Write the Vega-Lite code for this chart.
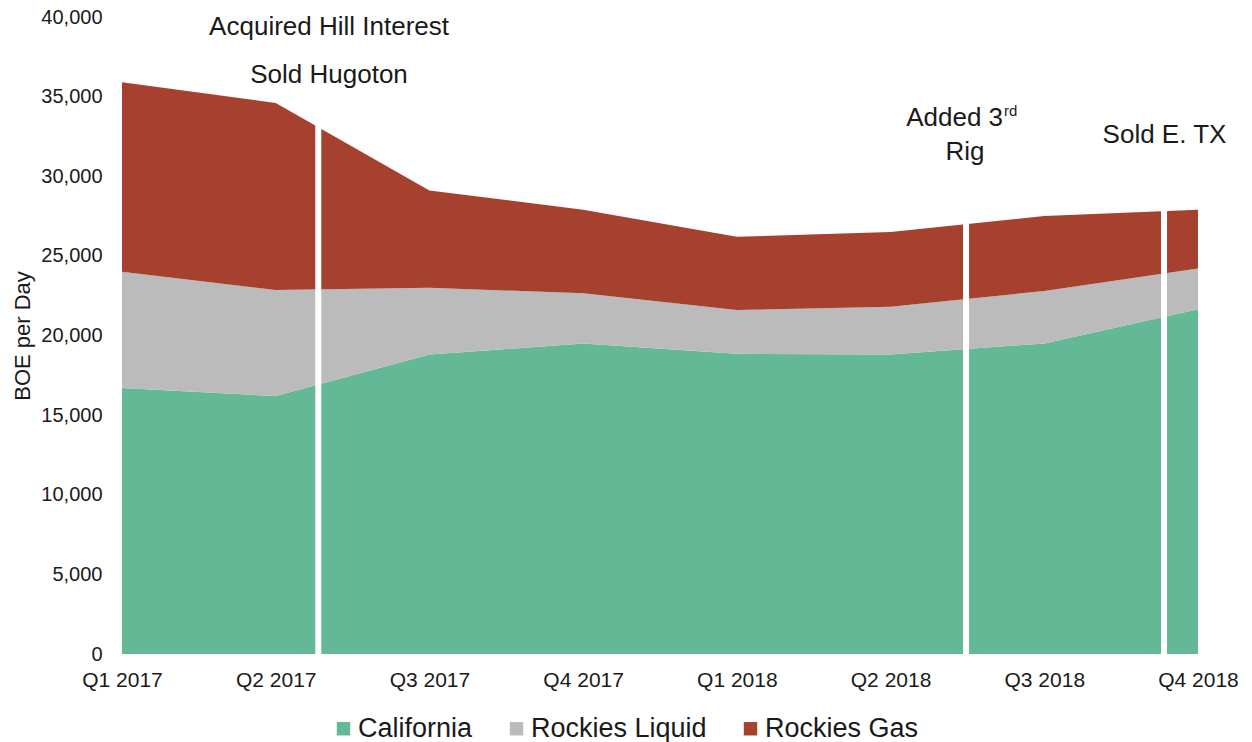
{
  "$schema": "https://vega.github.io/schema/vega-lite/v6.json",
  "autosize": {"type": "none"},
  "width": 1076,
  "height": 637,
  "padding": {"left": 122, "top": 17, "right": 54, "bottom": 88},
  "background": "white",
  "config": {
    "view": {"stroke": null},
    "font": "Liberation Sans",
    "axis": {"labelFont": "Liberation Sans", "titleFont": "Liberation Sans", "labelColor": "#1a1a1a", "titleColor": "#1a1a1a", "grid": false, "ticks": false, "domain": false}
  },
  "datasets": {
    "prod": [
      {"q": 0, "series": "California", "k": 1, "v": 16700},
      {"q": 1, "series": "California", "k": 1, "v": 16200},
      {"q": 2, "series": "California", "k": 1, "v": 18800},
      {"q": 3, "series": "California", "k": 1, "v": 19500},
      {"q": 4, "series": "California", "k": 1, "v": 18850},
      {"q": 5, "series": "California", "k": 1, "v": 18800},
      {"q": 6, "series": "California", "k": 1, "v": 19500},
      {"q": 7, "series": "California", "k": 1, "v": 21650},
      {"q": 0, "series": "Rockies Liquid", "k": 2, "v": 7300},
      {"q": 1, "series": "Rockies Liquid", "k": 2, "v": 6650},
      {"q": 2, "series": "Rockies Liquid", "k": 2, "v": 4200},
      {"q": 3, "series": "Rockies Liquid", "k": 2, "v": 3150},
      {"q": 4, "series": "Rockies Liquid", "k": 2, "v": 2750},
      {"q": 5, "series": "Rockies Liquid", "k": 2, "v": 3000},
      {"q": 6, "series": "Rockies Liquid", "k": 2, "v": 3300},
      {"q": 7, "series": "Rockies Liquid", "k": 2, "v": 2550},
      {"q": 0, "series": "Rockies Gas", "k": 3, "v": 11900},
      {"q": 1, "series": "Rockies Gas", "k": 3, "v": 11750},
      {"q": 2, "series": "Rockies Gas", "k": 3, "v": 6100},
      {"q": 3, "series": "Rockies Gas", "k": 3, "v": 5250},
      {"q": 4, "series": "Rockies Gas", "k": 3, "v": 4600},
      {"q": 5, "series": "Rockies Gas", "k": 3, "v": 4700},
      {"q": 6, "series": "Rockies Gas", "k": 3, "v": 4700},
      {"q": 7, "series": "Rockies Gas", "k": 3, "v": 3700}
    ],
    "gaps": [
      {"q": 1.277, "lo": 0, "hi": 40000},
      {"q": 5.491, "lo": 0, "hi": 40000},
      {"q": 6.779, "lo": 0, "hi": 40000}
    ],
    "notes": [
      {"q": 1.347, "v": 38870, "label": "Acquired Hill Interest"},
      {"q": 1.347, "v": 35856, "label": "Sold Hugoton"},
      {"q": 5.484, "v": 31020, "label": "Rig"},
      {"q": 6.782, "v": 32107, "label": "Sold E. TX"}
    ],
    "notesR": [
      {"q": 5.732, "v": 33174, "label": "Added 3"}
    ],
    "sup": [
      {"q": 5.732, "v": 33174, "label": "rd"}
    ]
  },
  "layer": [
    {
      "data": {"name": "prod"},
      "mark": {"type": "area", "interpolate": "linear"},
      "encoding": {
        "x": {
          "field": "q", "type": "quantitative",
          "scale": {"domain": [0, 7], "nice": false, "zero": false},
          "axis": {
            "values": [0, 1, 2, 3, 4, 5, 6, 7],
            "labelExpr": "['Q1 2017','Q2 2017','Q3 2017','Q4 2017','Q1 2018','Q2 2018','Q3 2018','Q4 2018'][datum.value]",
            "labelFontSize": 21, "labelPadding": 15, "title": null, "labelFlush": false, "labelOverlap": false
          }
        },
        "y": {
          "field": "v", "type": "quantitative", "stack": "zero",
          "scale": {"domain": [0, 40000], "nice": false},
          "axis": {
            "values": [0, 5000, 10000, 15000, 20000, 25000, 30000, 35000, 40000],
            "format": ",.0f", "labelFontSize": 20, "labelPadding": 20,
            "title": "BOE per Day", "titleFontSize": 22, "titleFontWeight": "normal", "titlePadding": 6
          }
        },
        "color": {
          "field": "series", "type": "nominal",
          "scale": {"domain": ["California", "Rockies Liquid", "Rockies Gas"], "range": ["#63B996", "#BBBBBB", "#A6412F"]},
          "legend": {
            "title": null, "orient": "none", "direction": "horizontal",
            "legendX": 208, "legendY": 698,
            "symbolType": "square", "symbolSize": 180, "symbolStrokeWidth": 0, "symbolOpacity": 1,
            "labelFont": "Liberation Sans", "labelFontSize": 27, "labelColor": "#1a1a1a", "labelLimit": 400,
            "labelOffset": 1, "columnPadding": 30, "padding": 0
          }
        },
        "order": {"field": "k", "type": "quantitative"}
      }
    },
    {
      "data": {"name": "gaps"},
      "mark": {"type": "rule", "color": "white", "strokeWidth": 6},
      "encoding": {
        "x": {"field": "q", "type": "quantitative"},
        "y": {"field": "lo", "type": "quantitative"},
        "y2": {"field": "hi"}
      }
    },
    {
      "data": {"name": "notes"},
      "mark": {"type": "text", "font": "Liberation Sans", "fontSize": 26, "color": "#1a1a1a", "align": "center", "baseline": "alphabetic"},
      "encoding": {
        "x": {"field": "q", "type": "quantitative"},
        "y": {"field": "v", "type": "quantitative"},
        "text": {"field": "label"}
      }
    },
    {
      "data": {"name": "notesR"},
      "mark": {"type": "text", "font": "Liberation Sans", "fontSize": 26, "color": "#1a1a1a", "align": "right", "baseline": "alphabetic"},
      "encoding": {
        "x": {"field": "q", "type": "quantitative"},
        "y": {"field": "v", "type": "quantitative"},
        "text": {"field": "label"}
      }
    },
    {
      "data": {"name": "sup"},
      "mark": {"type": "text", "font": "Liberation Sans", "fontSize": 15, "color": "#1a1a1a", "align": "left", "baseline": "alphabetic", "dx": 1, "dy": -10},
      "encoding": {
        "x": {"field": "q", "type": "quantitative"},
        "y": {"field": "v", "type": "quantitative"},
        "text": {"field": "label"}
      }
    }
  ]
}
